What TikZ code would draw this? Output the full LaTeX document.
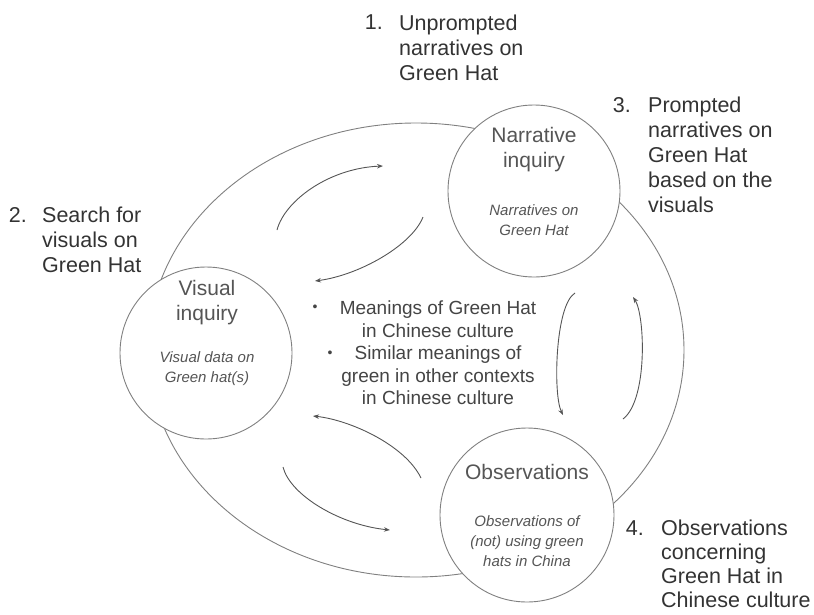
\documentclass[tikz,border=0pt]{standalone}
\usepackage{fontspec}
\setmainfont{Liberation Sans}
\usetikzlibrary{arrows.meta}
\definecolor{linegray}{HTML}{808080}
\definecolor{arrowgray}{HTML}{555555}
\definecolor{labelgray}{HTML}{333333}
\definecolor{titlegray}{HTML}{555555}
\definecolor{bodygray}{HTML}{444444}
\begin{document}
\begin{tikzpicture}[x=1pt,y=-1pt,
  hub/.style={circle,draw=linegray,line width=0.9pt,fill=white,minimum size=#1,inner sep=0pt},
  ring/.style={draw=linegray,line width=0.9pt},
  flow/.style={draw=arrowgray,line width=0.9pt,-{Stealth[length=6pt,width=4.5pt]}},
  hubtitle/.style={text=titlegray,font=\fontsize{21}{25}\selectfont,align=center,inner sep=0pt},
  hubnote/.style={text=titlegray,font=\fontsize{15}{20}\selectfont\itshape,align=center,inner sep=0pt},
  stagetext/.style={text=labelgray,font=\fontsize{21.5}{25}\selectfont,align=left,inner sep=0pt,anchor=north west},
  stagenum/.style={text=labelgray,font=\fontsize{21.5}{25}\selectfont,inner sep=0pt,anchor=north east},
  themes/.style={text=bodygray,font=\fontsize{19}{22.5}\selectfont,align=center,inner sep=0pt},
  dot/.style={text=bodygray,font=\fontsize{14}{14}\selectfont,inner sep=0pt}
]
\useasboundingbox (0,0) rectangle (814,614);

% outer cycle
\draw[ring] (416,350) ellipse [x radius=268pt, y radius=227pt];

% the three inquiry circles
\node[hub=172pt] (narr) at (534,191) {};
\node[hub=172pt] (vis)  at (206,353) {};
\node[hub=174pt] (obs)  at (527,515) {};

\node[hubtitle] (narrT) at (534,150) {Narrative\\inquiry};
\node[hubnote]  (narrN) at (534,220) {Narratives on\\Green Hat};
\node[hubtitle] (visT)  at (207,303) {Visual\\inquiry};
\node[hubnote]  (visN)  at (207,369) {Visual data on\\Green hat(s)};
\node[hubtitle] (obsT)  at (527,472) {Observations};
\node[hubnote]  (obsN)  at (527,541) {Observations of\\(not) using green\\hats in China};

% central themes
\node[themes] (theme) at (438,353) {Meanings of Green Hat\\in Chinese culture\\Similar meanings of\\green in other contexts\\in Chinese culture};
\node[dot] (b1) at (315,308) {•};
\node[dot] (b2) at (330,354) {•};

% numbered stages
\node[stagetext] (s1) at (399,15) {Unprompted\\narratives on\\Green Hat};
\node[stagenum]  (n1) at (383,15) {1.};
\node[stagetext] (s2) at (42,207) {Search for\\visuals on\\Green Hat};
\node[stagenum]  (n2) at (27,207) {2.};
\node[stagetext] (s3) at (648,97) {Prompted\\narratives on\\Green Hat\\based on the\\visuals};
\node[stagenum]  (n3) at (631,97) {3.};
\node[stagetext,font=\fontsize{21.5}{24}\selectfont] (s4) at (661,520) {Observations\\concerning\\Green Hat in\\Chinese culture};
\node[stagenum]  (n4) at (644,520) {4.};

% flow arrows between the circles
\coordinate (a1s) at (277,230); \coordinate (a1e) at (383,166);
\coordinate (a2s) at (423,217); \coordinate (a2e) at (315,281);
\coordinate (a3s) at (575,293); \coordinate (a3e) at (563,415);
\coordinate (a4s) at (623,419); \coordinate (a4e) at (633,297);
\coordinate (a5s) at (421,478); \coordinate (a5e) at (313,416);
\coordinate (a6s) at (283,467); \coordinate (a6e) at (390,530);

\draw[flow] (a1s) .. controls (285,200) and (330,168) .. (a1e);
\draw[flow] (a2s) .. controls (412,245) and (360,275) .. (a2e);
\draw[flow] (a3s) .. controls (555,305) and (553,395) .. (a3e);
\draw[flow] (a4s) .. controls (648,400) and (645,315) .. (a4e);
\draw[flow] (a5s) .. controls (405,445) and (350,420) .. (a5e);
\draw[flow] (a6s) .. controls (290,495) and (340,525) .. (a6e);
\end{tikzpicture}
\end{document}
